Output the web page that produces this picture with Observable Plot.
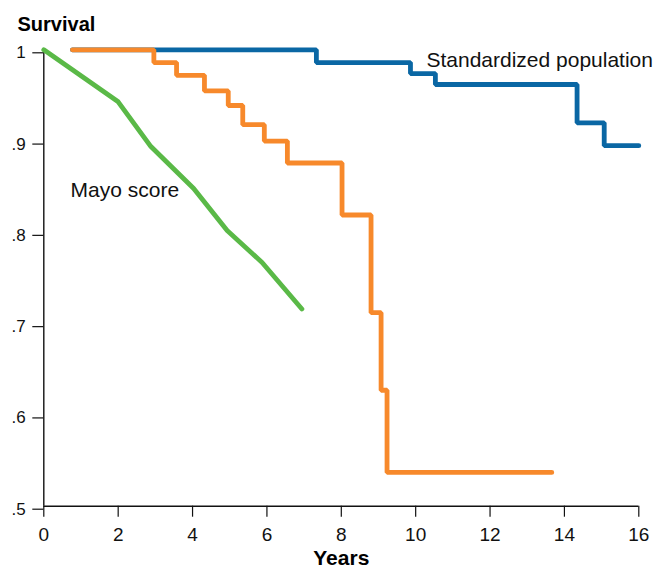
<!DOCTYPE html>
<html>
<head>
<meta charset="utf-8">
<script src="https://cdn.jsdelivr.net/npm/d3@7"></script>
<script src="https://cdn.jsdelivr.net/npm/@observablehq/plot@0.6"></script>
<style>
  html, body { margin: 0; padding: 0; background: #fff; }
  #chart svg { display: block; }
</style>
</head>
<body>
<div id="chart"></div>
<script>
// Standardized population (Kaplan–Meier style steps)
const stdYears = [0.77, 7.33, 9.86, 10.53, 14.34, 15.07, 16.0];
const stdSurvival = [1.0, 0.986, 0.974, 0.962, 0.920, 0.895, 0.895];

// Observed (orange) survival steps
const obsYears = [0.77, 2.96, 3.57, 4.32, 4.96, 5.35, 5.93, 6.55, 8.02, 8.80, 9.07, 9.23, 13.66];
const obsSurvival = [1.0, 0.986, 0.972, 0.955, 0.939, 0.918, 0.900, 0.876, 0.819, 0.712, 0.627, 0.537, 0.537];

// Mayo score predicted survival
const mayoYears = [0, 2.0, 2.88, 4.03, 4.93, 5.87, 6.94];
const mayoSurvival = [1.0, 0.943, 0.894, 0.848, 0.802, 0.767, 0.716];

// Axis ticks
const xTicks = [0, 2, 4, 6, 8, 10, 12, 14, 16];
const yTicks = [0.5, 0.6, 0.7, 0.8, 0.9, 1.0];
const yTickLabels = [".5", ".6", ".7", ".8", ".9", "1"];

// Texts
const yTitle = "Survival";
const xTitle = "Years";
const stdLabel = "Standardized population";
const mayoLabel = "Mayo score";

const toRows = (xs, ys) => xs.map((x, i) => ({x, y: ys[i]}));
const stdRows = toRows(stdYears, stdSurvival);
const obsRows = toRows(obsYears, obsSurvival);
const mayoRows = toRows(mayoYears, mayoSurvival);

const BLUE = "#0a67a4";
const ORANGE = "#f7892b";
const GREEN = "#5ab947";
const FONT = "'Liberation Sans', Arial, Helvetica, sans-serif";

const chart = Plot.plot({
  width: 659,
  height: 568,
  marginLeft: 43.3,
  marginRight: 20.7,
  marginTop: 49.3,
  marginBottom: 62.3,
  style: {fontFamily: FONT, background: "#fff", color: "#000"},
  x: {domain: [0, 16]},
  y: {domain: [0.5, 1]},
  marks: [
    Plot.axisY({
      ticks: yTicks,
      tickFormat: d => yTickLabels[yTicks.findIndex(t => Math.abs(t - d) < 1e-9)],
      tickSize: 11,
      tickPadding: 7,
      fontSize: 17,
      dy: 3,
      label: null,
      stroke: "#111",
      strokeWidth: 1.2,
      fill: "#111"
    }),
    Plot.axisX({
      ticks: xTicks,
      tickSize: 11,
      tickPadding: 10,
      fontSize: 19,
      label: null,
      stroke: "#111",
      strokeWidth: 1.2,
      fill: "#111"
    }),
    Plot.ruleX([0], {stroke: "#111", strokeWidth: 1.4}),
    Plot.ruleY([0.5], {stroke: "#111", strokeWidth: 1.4}),
    Plot.line(stdRows, {x: "x", y: "y", curve: "step-after", stroke: BLUE, strokeWidth: 4.8, strokeLinecap: "round", strokeLinejoin: "miter"}),
    Plot.line(obsRows, {x: "x", y: "y", curve: "step-after", stroke: ORANGE, strokeWidth: 4.8, strokeLinecap: "round", strokeLinejoin: "miter"}),
    Plot.line(mayoRows, {x: "x", y: "y", curve: "linear", stroke: GREEN, strokeWidth: 4.8, strokeLinecap: "round", strokeLinejoin: "round"}),
    Plot.text([stdLabel], {x: 10.29, y: 0.981, text: d => d, textAnchor: "start", lineAnchor: "bottom", fontSize: 21, fill: "#111"}),
    Plot.text([mayoLabel], {x: 0.72, y: 0.8385, text: d => d, textAnchor: "start", lineAnchor: "bottom", fontSize: 21, fill: "#111"}),
    Plot.text([yTitle], {frameAnchor: "top-left", text: d => d, textAnchor: "start", lineAnchor: "bottom", dx: -26.3, dy: -19.3, fontSize: 20, fontWeight: "bold", fill: "#000"}),
    Plot.text([xTitle], {frameAnchor: "bottom", text: d => d, textAnchor: "middle", lineAnchor: "bottom", dy: 58.5, fontSize: 21, fontWeight: "bold", fill: "#000"})
  ]
});
document.getElementById("chart").appendChild(chart);
</script>
</body>
</html>
